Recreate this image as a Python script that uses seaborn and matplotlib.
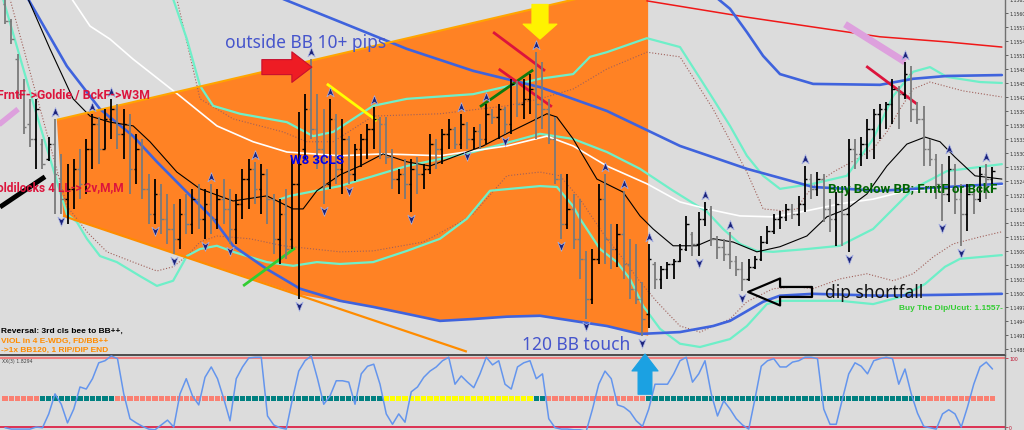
import numpy as np
import matplotlib
matplotlib.use('Agg')
import matplotlib.pyplot as plt
from matplotlib.path import Path
import seaborn as sns

# ---------------- data ----------------
opens = [1.15624, 1.15588, 1.15506, 1.15431, 1.15367, 1.15335, 1.15324, 1.15292, 1.15324, 1.15249,
         1.15206, 1.15228, 1.15271, 1.15239, 1.15314, 1.15367, 1.15314, 1.15378, 1.15399, 1.15346,
         1.15367, 1.15271, 1.15314, 1.15228, 1.15174, 1.15217, 1.15164, 1.15142, 1.15121, 1.15174,
         1.15153, 1.15206, 1.15164, 1.15196, 1.15164, 1.15206, 1.15185, 1.15142, 1.15196, 1.15249,
         1.15271, 1.15228, 1.15260, 1.15206, 1.15121, 1.15174, 1.15121, 1.15239, 1.15314, 1.15399,
         1.15356, 1.15314, 1.15239, 1.15378, 1.15271, 1.15335, 1.15260, 1.15314, 1.15335, 1.15356,
         1.15378, 1.15367, 1.15296, 1.15249, 1.15260, 1.15239, 1.15271, 1.15260, 1.15271, 1.15324,
         1.15314, 1.15346, 1.15356, 1.15324, 1.15367, 1.15335, 1.15352, 1.15335, 1.15389, 1.15382,
         1.15399, 1.15367, 1.15453, 1.15410, 1.15421, 1.15442, 1.15410, 1.15399, 1.15335, 1.15249,
         1.15153, 1.15185, 1.15121, 1.15078, 1.14992, 1.15078, 1.15206, 1.15121, 1.15099, 1.15131,
         1.15067, 1.15014, 1.14992, 1.14960, 1.15067, 1.15035, 1.15056, 1.15067, 1.15074, 1.15099,
         1.15131, 1.15110, 1.15164, 1.15185, 1.15121, 1.15104, 1.15089, 1.15074, 1.15056, 1.15035,
         1.15061, 1.15078, 1.15114, 1.15138, 1.15164, 1.15168, 1.15185, 1.15174, 1.15196, 1.15249,
         1.15228, 1.15249, 1.15185, 1.15164, 1.15196, 1.15174, 1.15314, 1.15303, 1.15324, 1.15356,
         1.15389, 1.15399, 1.15410, 1.15442, 1.15431, 1.15474, 1.15399, 1.15378, 1.15314, 1.15292,
         1.15239, 1.15217, 1.15271, 1.15206, 1.15174, 1.15217, 1.15206, 1.15260, 1.15249]
highs = [1.15635, 1.15592, 1.15517, 1.15464, 1.15421, 1.15421, 1.15335, 1.15339, 1.15378, 1.15303,
         1.15281, 1.15292, 1.15314, 1.15335, 1.15389, 1.15382, 1.15399, 1.15421, 1.15410, 1.15399,
         1.15389, 1.15346, 1.15335, 1.15260, 1.15249, 1.15239, 1.15217, 1.15196, 1.15206, 1.15217,
         1.15228, 1.15239, 1.15228, 1.15239, 1.15228, 1.15249, 1.15228, 1.15217, 1.15271, 1.15292,
         1.15286, 1.15281, 1.15271, 1.15217, 1.15206, 1.15228, 1.15292, 1.15393, 1.15431, 1.15506,
         1.15431, 1.15399, 1.15421, 1.15389, 1.15378, 1.15341, 1.15324, 1.15346, 1.15367, 1.15404,
         1.15382, 1.15382, 1.15314, 1.15271, 1.15292, 1.15292, 1.15296, 1.15281, 1.15346, 1.15335,
         1.15356, 1.15378, 1.15361, 1.15389, 1.15371, 1.15361, 1.15367, 1.15410, 1.15399, 1.15410,
         1.15404, 1.15464, 1.15459, 1.15464, 1.15474, 1.15521, 1.15500, 1.15421, 1.15382, 1.15260,
         1.15260, 1.15217, 1.15206, 1.15095, 1.15099, 1.15239, 1.15260, 1.15153, 1.15153, 1.15224,
         1.15121, 1.15110, 1.15029, 1.15110, 1.15071, 1.15063, 1.15071, 1.15078, 1.15110, 1.15170,
         1.15136, 1.15179, 1.15200, 1.15191, 1.15127, 1.15121, 1.15136, 1.15084, 1.15071, 1.15078,
         1.15084, 1.15127, 1.15149, 1.15174, 1.15181, 1.15196, 1.15196, 1.15213, 1.15277, 1.15260,
         1.15264, 1.15260, 1.15206, 1.15221, 1.15221, 1.15335, 1.15335, 1.15339, 1.15378, 1.15399,
         1.15410, 1.15414, 1.15464, 1.15449, 1.15500, 1.15491, 1.15414, 1.15406, 1.15335, 1.15303,
         1.15281, 1.15299, 1.15281, 1.15239, 1.15239, 1.15228, 1.15275, 1.15281, 1.15275]
lows = [1.15581, 1.15539, 1.15421, 1.15346, 1.15318, 1.15271, 1.15271, 1.15288, 1.15174, 1.15174,
        1.15153, 1.15185, 1.15206, 1.15217, 1.15271, 1.15281, 1.15314, 1.15335, 1.15314, 1.15292,
        1.15217, 1.15239, 1.15206, 1.15153, 1.15153, 1.15131, 1.15110, 1.15089, 1.15099, 1.15131,
        1.15131, 1.15142, 1.15121, 1.15131, 1.15142, 1.15153, 1.15110, 1.15110, 1.15164, 1.15185,
        1.15196, 1.15174, 1.15153, 1.15089, 1.15067, 1.15078, 1.15099, 1.14992, 1.15292, 1.15335,
        1.15271, 1.15196, 1.15228, 1.15239, 1.15217, 1.15239, 1.15245, 1.15275, 1.15292, 1.15314,
        1.15292, 1.15281, 1.15228, 1.15217, 1.15206, 1.15179, 1.15217, 1.15228, 1.15260, 1.15271,
        1.15281, 1.15314, 1.15314, 1.15314, 1.15314, 1.15314, 1.15314, 1.15324, 1.15367, 1.15335,
        1.15346, 1.15346, 1.15382, 1.15378, 1.15389, 1.15335, 1.15356, 1.15324, 1.15239, 1.15121,
        1.15142, 1.15099, 1.15035, 1.14949, 1.14981, 1.15067, 1.15067, 1.15056, 1.15061, 1.15035,
        1.14992, 1.14981, 1.14913, 1.14930, 1.15014, 1.15014, 1.15035, 1.15035, 1.15071, 1.15095,
        1.15084, 1.15084, 1.15149, 1.15106, 1.15078, 1.15074, 1.15056, 1.15041, 1.15009, 1.15031,
        1.15056, 1.15074, 1.15110, 1.15131, 1.15142, 1.15159, 1.15164, 1.15149, 1.15179, 1.15206,
        1.15213, 1.15157, 1.15136, 1.15106, 1.15106, 1.15093, 1.15271, 1.15277, 1.15292, 1.15292,
        1.15335, 1.15356, 1.15367, 1.15356, 1.15421, 1.15371, 1.15367, 1.15277, 1.15277, 1.15206,
        1.15159, 1.15200, 1.15174, 1.15106, 1.15138, 1.15174, 1.15200, 1.15206, 1.15221]
closes = [1.15588, 1.15549, 1.15431, 1.15361, 1.15335, 1.15399, 1.15281, 1.15324, 1.15260, 1.15206,
          1.15228, 1.15271, 1.15239, 1.15314, 1.15367, 1.15314, 1.15378, 1.15399, 1.15346, 1.15367,
          1.15271, 1.15314, 1.15228, 1.15174, 1.15217, 1.15164, 1.15142, 1.15121, 1.15174, 1.15153,
          1.15206, 1.15164, 1.15196, 1.15164, 1.15206, 1.15185, 1.15142, 1.15196, 1.15249, 1.15271,
          1.15228, 1.15260, 1.15206, 1.15121, 1.15174, 1.15099, 1.15239, 1.15281, 1.15399, 1.15356,
          1.15314, 1.15239, 1.15378, 1.15271, 1.15335, 1.15260, 1.15314, 1.15335, 1.15356, 1.15378,
          1.15367, 1.15296, 1.15249, 1.15260, 1.15239, 1.15271, 1.15260, 1.15271, 1.15324, 1.15314,
          1.15346, 1.15356, 1.15324, 1.15367, 1.15335, 1.15352, 1.15335, 1.15389, 1.15382, 1.15399,
          1.15367, 1.15453, 1.15410, 1.15421, 1.15442, 1.15410, 1.15399, 1.15335, 1.15249, 1.15153,
          1.15185, 1.15121, 1.15078, 1.14992, 1.15078, 1.15206, 1.15121, 1.15099, 1.15131, 1.15067,
          1.15014, 1.14992, 1.14949, 1.15078, 1.15035, 1.15056, 1.15067, 1.15074, 1.15099, 1.15153,
          1.15110, 1.15164, 1.15185, 1.15121, 1.15104, 1.15089, 1.15074, 1.15056, 1.15035, 1.15061,
          1.15078, 1.15114, 1.15138, 1.15164, 1.15168, 1.15185, 1.15174, 1.15196, 1.15249, 1.15228,
          1.15249, 1.15185, 1.15164, 1.15196, 1.15174, 1.15314, 1.15303, 1.15324, 1.15356, 1.15389,
          1.15399, 1.15410, 1.15442, 1.15431, 1.15474, 1.15399, 1.15378, 1.15314, 1.15292, 1.15239,
          1.15217, 1.15271, 1.15206, 1.15174, 1.15217, 1.15206, 1.15260, 1.15249, 1.15266]

# oscillator values per bar
osc = [-1, -3, -3, -3, -3, 0, -1, 19, 48, 33,
       6, 26, 58, 55, 70, 93, 96, 103, 99, 48,
       12, 6, 1, -3, -4, 3, 10, 0, 48, 70,
       45, 32, 72, 87, 70, 41, 9, 70, 87, 100,
       101, 101, 16, 3, -1, -3, 41, 81, 96, 103,
       70, 33, 45, 67, 67, 65, 33, 77, 88, 91,
       62, 19, 4, 19, 7, 51, 58, 72, 81, 87,
       96, 101, 62, 74, 65, 57, 77, 101, 90, 96,
       62, 55, 87, 93, 96, 70, 77, 12, -1, -3,
       -3, -4, -4, -6, 26, 62, 81, 70, 32, 29,
       22, 9, 1, 26, 62, 62, 62, 77, 96, 101,
       65, 77, 96, 48, 16, 38, 26, 12, 3, -3,
       41, 88, 96, 99, 87, 87, 94, 96, 101, 101,
       99, 26, 4, 4, 41, 77, 93, 88, 77, 96,
       99, 101, 99, 62, 84, 48, 20, 1, -1, -3,
       19, 25, 19, 0, 29, 62, 87, 94, 84]

# signal row: runs of state (0 salmon, 1 teal, 2 yellow)
sig_codes = [0, 1, 0, 1, 2, 1, 0, 1, 0]
sig_lens = [6, 12, 18, 25, 24, 2, 16, 44, 12]

# indicator lines (bar position, price)
blue_low_x = [1.5, 3.7, 9.9, 15.2, 20.5, 24.3, 29.1, 33.3, 36.5, 41.9, 47.2, 53.6, 58.9, 64.3, 69.6,
              74.9, 80.3, 85.6, 90.9, 96.3, 101.6, 108, 113.3, 116, 121.3, 124, 129.3, 140, 150.7, 159.5]
blue_low_p = [1.15680, 1.15635, 1.15491, 1.15399, 1.15341, 1.15286, 1.15221, 1.15164, 1.15106, 1.15056,
              1.15014, 1.14988, 1.14975, 1.14960, 1.14945, 1.14949, 1.14954, 1.14956, 1.14945, 1.14934,
              1.14917, 1.14921, 1.14934, 1.14945, 1.14986, 1.14999, 1.15003, 1.14999, 1.15001, 1.15003]
blue_mid_x = [39.2, 44.5, 53.6, 64.3, 74.9, 85.6, 96.3, 108, 118.7, 129.3, 140, 150.7, 159.5]
blue_mid_p = [1.15678, 1.15635, 1.15586, 1.15528, 1.15481, 1.15446, 1.15395, 1.15320, 1.15271,
              1.15232, 1.15224, 1.15232, 1.15239]
blue_up_x = [111.2, 114.1, 116, 118.7, 121.3, 124, 129.3, 140, 145.3, 150.7, 159.5]
blue_up_p = [1.15667, 1.15635, 1.15614, 1.15564, 1.15513, 1.15474, 1.15453, 1.15451, 1.15464,
             1.15470, 1.15472]
red_x = [102.7, 118.7, 129.3, 140, 150.7, 159.5]
red_p = [1.15631, 1.15596, 1.15575, 1.15554, 1.15543, 1.15532]
white_x = [8.8, 10.7, 13.6, 16.8, 20.5, 28, 33.9, 39.7, 45.1, 53.6, 60.5, 69.6, 80.3, 86.7, 90.9,
           96.3, 102.7, 108, 112.3, 117.6, 122.9, 128.3, 133.6, 138.9, 144.3, 159.5]
white_p = [1.15678, 1.15635, 1.15577, 1.15549, 1.15506, 1.15427, 1.15363, 1.15329, 1.15307, 1.15299,
           1.15303, 1.15299, 1.15320, 1.15341, 1.15320, 1.15277, 1.15239, 1.15200, 1.15185, 1.15170,
           1.15168, 1.15181, 1.15196, 1.15206, 1.15224, 1.15236]
black_x = [2.4, 3.7, 7.2, 10.9, 13.6, 16.8, 20.5, 23.2, 27.5, 31.2, 36.5, 41.9, 46.1, 47.7, 49.9,
           53.6, 56.8, 60.5, 64.3, 68, 72.3, 76.5, 80.8, 84, 86.7, 88.3, 90.9, 94.7, 98.9, 101.6,
           103.7, 106.9, 110.7, 113.3, 116.5, 120.3, 124, 128.3, 131.5, 134.7, 137.9, 141.1, 144.3,
           147.2, 149.6, 152, 155.2, 159.5]
black_p = [1.15678, 1.15635, 1.15528, 1.15421, 1.15384, 1.15371, 1.15363, 1.15329, 1.15264, 1.15228,
           1.15202, 1.15213, 1.15185, 1.15185, 1.15224, 1.15258, 1.15277, 1.15303, 1.15286, 1.15277,
           1.15299, 1.15320, 1.15350, 1.15371, 1.15389, 1.15382, 1.15335, 1.15249, 1.15221, 1.15170,
           1.15142, 1.15106, 1.15106, 1.15121, 1.15114, 1.15093, 1.15104, 1.15127, 1.15168, 1.15185,
           1.15217, 1.15277, 1.15324, 1.15339, 1.15329, 1.15296, 1.15256, 1.15249]
aqua_up_x = [24.8, 26.9, 29.1, 31.2, 33.3, 37.6, 45.1, 49.3, 52.5, 58.9, 64.3, 74.9, 85.6, 90.9, 93.6,
             96.3, 102.7, 108, 113.3, 116, 118.7, 121.3, 124, 129.3, 134.7, 138.9, 142.1, 145.3, 148,
             150.7, 156, 159.5]
aqua_up_p = [1.15678, 1.15635, 1.15549, 1.15449, 1.15406, 1.15389, 1.15371, 1.15341, 1.15350, 1.15406,
             1.15421, 1.15431, 1.15464, 1.15474, 1.15511, 1.15521, 1.15551, 1.15532, 1.15421, 1.15363,
             1.15299, 1.15256, 1.15228, 1.15239, 1.15256, 1.15335, 1.15427, 1.15479, 1.15489, 1.15468,
             1.15457, 1.15455]
aqua_mid_x = [44, 45.6, 53.6, 64.3, 74.9, 85.6, 90.9, 96.3, 101.6, 106.9, 112.3, 114.9, 117.6, 120.3,
              122.9, 128.3, 133.6, 138.9, 145.3, 150.7, 159.5]
aqua_mid_p = [1.15206, 1.15213, 1.15234, 1.15277, 1.15307, 1.15346, 1.15335, 1.15307, 1.15271, 1.15224,
              1.15179, 1.15142, 1.15110, 1.15095, 1.15093, 1.15099, 1.15106, 1.15142, 1.15228, 1.15266,
              1.15281]
aqua_low_x = [-1.6, -0.3, 4.8, 9.9, 11.5, 13.1, 15.2, 17.9, 21.6, 24.3, 26.9, 29.1, 31.2, 33.9, 36.5,
              41.9, 46.1, 49.9, 53.6, 58.9, 64.3, 69.6, 73.9, 77.6, 85.6, 88.3, 90.9, 92, 95.2, 97.9,
              100, 102.1, 104.8, 108, 111.2, 116, 118.7, 121.9, 124, 133.6, 138.9, 143.2, 147.2, 150.4,
              152.8, 159.5]
aqua_low_p = [1.15667, 1.15635, 1.15399, 1.15174, 1.15157, 1.15121, 1.15084, 1.15071, 1.15041, 1.15020,
              1.15031, 1.15084, 1.15099, 1.15106, 1.15093, 1.15071, 1.15063, 1.15071, 1.15067, 1.15071,
              1.15095, 1.15121, 1.15164, 1.15224, 1.15234, 1.15232, 1.15191, 1.15164, 1.15099, 1.15071,
              1.15035, 1.14977, 1.14928, 1.14896, 1.14889, 1.14906, 1.14934, 1.14981, 1.14988, 1.14988,
              1.14981, 1.14996, 1.15024, 1.15061, 1.15078, 1.15086]
dot_up_x = [26.4, 27.5, 31.2, 36.5, 44.5, 48.3, 52.5, 58.9, 69.6, 80.3, 85.6, 90.9, 96.3, 102.7, 108,
            113.3, 118.7, 121.3, 124.5, 126.7, 127.7, 129.3, 132.5, 136.3, 138.9, 141.1, 143.2, 145.3,
            148, 153.3, 159.5]
dot_up_p = [1.15656, 1.15635, 1.15421, 1.15378, 1.15350, 1.15329, 1.15329, 1.15384, 1.15389, 1.15406,
            1.15421, 1.15442, 1.15485, 1.15521, 1.15511, 1.15399, 1.15264, 1.15185, 1.15181, 1.15185,
            1.15206, 1.15234, 1.15264, 1.15292, 1.15314, 1.15350, 1.15399, 1.15442, 1.15457, 1.15438,
            1.15425]
dot_low_x = [-0.8, 0.8, 9.9, 11.5, 13.1, 16.3, 20.5, 24.3, 26.9, 29.1, 31.2, 33.9, 39.2, 44.5, 53.6,
             58.9, 66.9, 72.3, 74.9, 80.3, 85.6, 88.8, 92, 94.1, 96.3, 98.9, 101.6, 104.3, 108, 111.2,
             116, 118.7, 122.9, 126.7, 129.3, 133.6, 137.9, 142.1, 145.3, 148.5, 151.7, 156, 159.5]
dot_low_p = [1.15656, 1.15635, 1.15191, 1.15164, 1.15136, 1.15093, 1.15071, 1.15052, 1.15061, 1.15084,
             1.15114, 1.15127, 1.15121, 1.15106, 1.15093, 1.15095, 1.15114, 1.15153, 1.15174, 1.15256,
             1.15264, 1.15256, 1.15206, 1.15164, 1.15121, 1.15078, 1.15029, 1.14986, 1.14934, 1.14921,
             1.14949, 1.14986, 1.15014, 1.15018, 1.15014, 1.15035, 1.15046, 1.15031, 1.15046, 1.15082,
             1.15110, 1.15125, 1.15136]

# orange wedge outline
wedge_x = [8.3, 102.9, 102.9, 101.6, 96.3, 90.9, 85.6, 80.3, 74.9, 69.6, 64.3, 58.9, 53.6, 47.2, 9.3]
wedge_p = [1.15376, 1.15671, 1.14913, 1.14917, 1.14934, 1.14945, 1.14956, 1.14954, 1.14949, 1.14945,
           1.14960, 1.14975, 1.14986, 1.15001, 1.15170]

# hand-drawn trend segments
seg_x0 = [-1.5, -0.8, 9.3, 8.3, 51.5, 76, 78.1, 79, 38.1, 134.4, 137.8]
seg_p0 = [1.15360, 1.15189, 1.15170, 1.15376, 1.15453, 1.15404, 1.15564, 1.15485, 1.15020, 1.15581, 1.15491]
seg_x1 = [2.1, 6.4, 73.9, 102.9, 59.5, 84.5, 86.4, 87.5, 46.4, 144, 145.9]
seg_p1 = [1.15399, 1.15254, 1.14879, 1.15671, 1.15374, 1.15483, 1.15481, 1.15404, 1.15101, 1.15500, 1.15410]

# fractal arrows
up_idx = [8, 14, 17, 33, 40, 49, 52, 59, 73, 77, 85, 96, 99, 103, 112, 116, 128, 144, 151, 157]
down_idx = [9, 24, 27, 32, 36, 47, 51, 55, 65, 74, 80, 89, 93, 102, 111, 118, 135, 150, 153]

price_ticks = [1.14885, 1.14915, 1.14945, 1.14975, 1.15005, 1.15035, 1.15065, 1.15095, 1.15125,
               1.15155, 1.15185, 1.15215, 1.15245, 1.15275, 1.15305, 1.15335, 1.15365, 1.15395,
               1.15425, 1.15455, 1.15485, 1.15515, 1.15545, 1.15575, 1.15605, 1.15635]

# ---------------- styling ----------------
BG = '#DCDCDC'
sns.set_style('white', {'axes.facecolor': BG, 'figure.facecolor': BG})
plt.rcParams['font.family'] = ['DejaVu Sans']
NARROW = ['Roboto', 'DejaVu Sans']
ARIAL = ['Liberation Sans', 'DejaVu Sans']
SOFT = ['Noto Sans', 'DejaVu Sans']

fig = plt.figure(figsize=(10.24, 4.31), dpi=100, facecolor=BG)
W = 1005 / 1024
ax = fig.add_axes([0, 76 / 431, W, 355 / 431])
axo = fig.add_axes([0, 0, W, 75 / 431])
ax.set_zorder(3)
axo.set_zorder(1)

n = len(opens)
idx = np.arange(n)
o = np.array(opens); h = np.array(highs); l = np.array(lows); c = np.array(closes)

# wedge
ax.fill(wedge_x, wedge_p, color='#FF8224', lw=0, zorder=1)

# trend segments
seg_colors = ['#DDA0DD', '#000000', '#FF8C00', '#FFA500', '#FFFF00', '#0E7A0E', '#DC143C',
              '#DC143C', '#32CD32', '#DDA0DD', '#DC143C']
seg_widths = [4, 3.5, 1.6, 1.5, 2, 2, 2, 2, 2, 5, 2]
for x0, p0, x1, p1, col, lw in zip(seg_x0, seg_p0, seg_x1, seg_p1, seg_colors, seg_widths):
    ax.plot([x0, x1], [p0, p1], color=col, lw=lw, solid_capstyle='butt', zorder=3)

# indicator lines
lines = [
    (dot_up_x, dot_up_p, '#A0605A', 0.8, ':'),
    (dot_low_x, dot_low_p, '#A0605A', 0.8, ':'),
    (aqua_up_x, aqua_up_p, '#6EEFC8', 1.6, '-'),
    (aqua_mid_x, aqua_mid_p, '#6EEFC8', 1.6, '-'),
    (aqua_low_x, aqua_low_p, '#6EEFC8', 1.6, '-'),
    (white_x, white_p, '#FFFFFF', 1.2, '-'),
    (red_x, red_p, '#F01818', 1.1, '-'),
    (blue_up_x, blue_up_p, '#3F63DD', 1.9, '-'),
    (blue_mid_x, blue_mid_p, '#3F63DD', 1.9, '-'),
    (blue_low_x, blue_low_p, '#3F63DD', 1.9, '-'),
    (black_x, black_p, '#000000', 0.8, '-'),
]
for xs, ps, col, lw, ls in lines:
    sns.lineplot(x=xs, y=ps, ax=ax, color=col, lw=lw, linestyle=ls, estimator=None,
                 sort=False, zorder=2)

# OHLC bars
bar_cols = np.where(c >= o, '#000000', '#7A7A7A')
ax.vlines(idx, l, h, colors=bar_cols, lw=1.3, zorder=4)
ax.hlines(o, idx - 0.4, idx, colors=bar_cols, lw=1.0, zorder=4)
ax.hlines(c, idx, idx + 0.4, colors=bar_cols, lw=1.0, zorder=4)

# fractal arrow markers
up_m = Path([(0, 1), (0.75, -0.9), (0, -0.35), (-0.75, -0.9), (0, 1)],
            [Path.MOVETO, Path.LINETO, Path.LINETO, Path.LINETO, Path.CLOSEPOLY])
dn_m = Path([(0, -1), (0.75, 0.9), (0, 0.35), (-0.75, 0.9), (0, -1)],
            [Path.MOVETO, Path.LINETO, Path.LINETO, Path.LINETO, Path.CLOSEPOLY])
ax.plot(up_idx, h[up_idx] + 0.00015, ls='none', marker=up_m, ms=7, mfc='#1B237A',
        mec='#A8B2E6', mew=0.5, zorder=5)
ax.plot(down_idx, l[down_idx] - 0.00015, ls='none', marker=dn_m, ms=7, mfc='#1B237A',
        mec='#A8B2E6', mew=0.5, zorder=5)

# block arrows
def block_arrow(tip, off, style, fc, ec, lw=0.8):
    ax.annotate('', xy=tip, xytext=off, textcoords='offset points', annotation_clip=False,
                arrowprops=dict(arrowstyle=style, fc=fc, ec=ec, lw=lw, shrinkA=0, shrinkB=0,
                                mutation_scale=20, clip_on=False), zorder=8)

block_arrow((49.1, 1.15489), (-36, 0), 'simple,head_length=0.72,head_width=1.1,tail_width=0.54',
            '#EE1C24', '#C8102E')
block_arrow((85.6, 1.15549), (0, 25), 'simple,head_length=0.54,head_width=1.22,tail_width=0.58',
            '#FFF200', '#FFF200')
block_arrow((102.4, 1.14874), (0, -29), 'simple,head_length=0.61,head_width=0.94,tail_width=0.5',
            '#1BA1E2', '#1BA1E2')
block_arrow((118.9, 1.15007), (46, 0), 'simple,head_length=1.15,head_width=0.97,tail_width=0.36',
            'none', '#000000', 1.6)

# texts
ax.text(35.2, 1.15543, 'outside BB 10+ pips', color='#4655CC', fontsize=12.5, family=SOFT,
        va='center', ha='left', zorder=9)
ax.text(82.7, 1.14896, '120 BB touch', color='#4655CC', fontsize=12.5, family=SOFT,
        va='center', ha='left', zorder=9)
ax.text(131.2, 1.15007, 'dip shortfall', color='#111111', fontsize=12.5, family=SOFT,
        va='center', ha='left', zorder=9)
ax.text(23.2, 1.15431, 'FrntF->Goldie / BckF->W3M', color='#DC143C', fontsize=8.8,
        family=NARROW, weight='bold', va='center', ha='right', zorder=9)
ax.text(19.0, 1.15232, 'Goldilocks 4 LL-> 2v,M,M', color='#DC143C', fontsize=8.6,
        family=NARROW, weight='bold', va='center', ha='right', zorder=9)
ax.text(45.6, 1.15292, 'W8 3CLS', color='#0000EE', fontsize=9.5, family=NARROW,
        weight='bold', va='center', ha='left', zorder=9)
ax.text(131.7, 1.15228, 'Buy Below BB; FrntF or BckF', color='#006400', fontsize=9.5,
        family=NARROW, weight='bold', va='center', ha='left', zorder=9)
ax.text(159.7, 1.14973, 'Buy The Dip/Ucut: 1.1557-', color='#32CD32', fontsize=6,
        family=ARIAL, weight='bold', va='center', ha='right', zorder=9)
ax.text(-0.6, 1.14924, 'Reversal: 3rd cls bee to BB++,', color='#000000', fontsize=6,
        family=ARIAL, weight='bold', va='center', ha='left', zorder=9)
ax.text(-0.6, 1.14904, 'VIOL in 4 E-WDG, FD/BB++', color='#FF8C00', fontsize=6,
        family=ARIAL, weight='bold', va='center', ha='left', zorder=9)
ax.text(-0.6, 1.14885, '->1x BB120, 1 RIP/DIP END', color='#FF8C00', fontsize=6,
        family=ARIAL, weight='bold', va='center', ha='left', zorder=9)

# main axes frame
ax.set_xlim(-0.8, 160)
ax.set_ylim(1.14874, 1.15635)
ax.set_xticks([])
ax.yaxis.tick_right()
ax.set_yticks(price_ticks)
ax.set_yticklabels([f'{t:.5f}' for t in price_ticks])
ax.tick_params(axis='y', labelsize=3.3, length=2, width=0.5, pad=1, colors='#303030')
for s in ['left', 'bottom']:
    ax.spines[s].set_visible(False)
ax.spines['top'].set_color('#8B0000')
ax.spines['top'].set_linewidth(1.2)
ax.spines['right'].set_color('#707070')
ax.spines['right'].set_linewidth(1.0)
ax.set_xlabel('')
ax.set_ylabel('')

# oscillator panel
pal = ['#FA8072', '#008080', '#FFFF00']
sig_col = []
for code, ln in zip(sig_codes, sig_lens):
    sig_col += [pal[code]] * ln
axo.axhline(100, color='#F08080', lw=1.5, zorder=1)
axo.axhline(0, color='#DC143C', lw=1.2, zorder=1)
axo.scatter(idx, np.full(n, 42.0), marker='s', s=13, c=sig_col, linewidths=0, zorder=2)
sns.lineplot(x=idx, y=osc, ax=axo, color='#6495ED', lw=1.1, estimator=None, sort=False, zorder=3)
axo.set_xlim(-0.8, 160)
axo.set_ylim(-4.3, 104.3)
axo.set_xticks([])
axo.yaxis.tick_right()
axo.set_yticks([0, 100])
axo.set_yticklabels(['0', '100'])
axo.tick_params(axis='y', labelsize=3.3, length=2, width=0.5, pad=1, colors='#C0102E')
axo.set_xlabel('')
axo.set_ylabel('')
for s in ['left', 'bottom']:
    axo.spines[s].set_visible(False)
axo.spines['top'].set_color('#505050')
axo.spines['top'].set_linewidth(1.5)
axo.spines['right'].set_color('#707070')
axo.spines['right'].set_linewidth(1.0)
axo.text(0.002, 0.96, 'XX(3) 1.8294', transform=axo.transAxes, fontsize=3.3, color='#404040',
         va='top', ha='left')

fig.savefig('out.png', dpi=100, facecolor=BG)
